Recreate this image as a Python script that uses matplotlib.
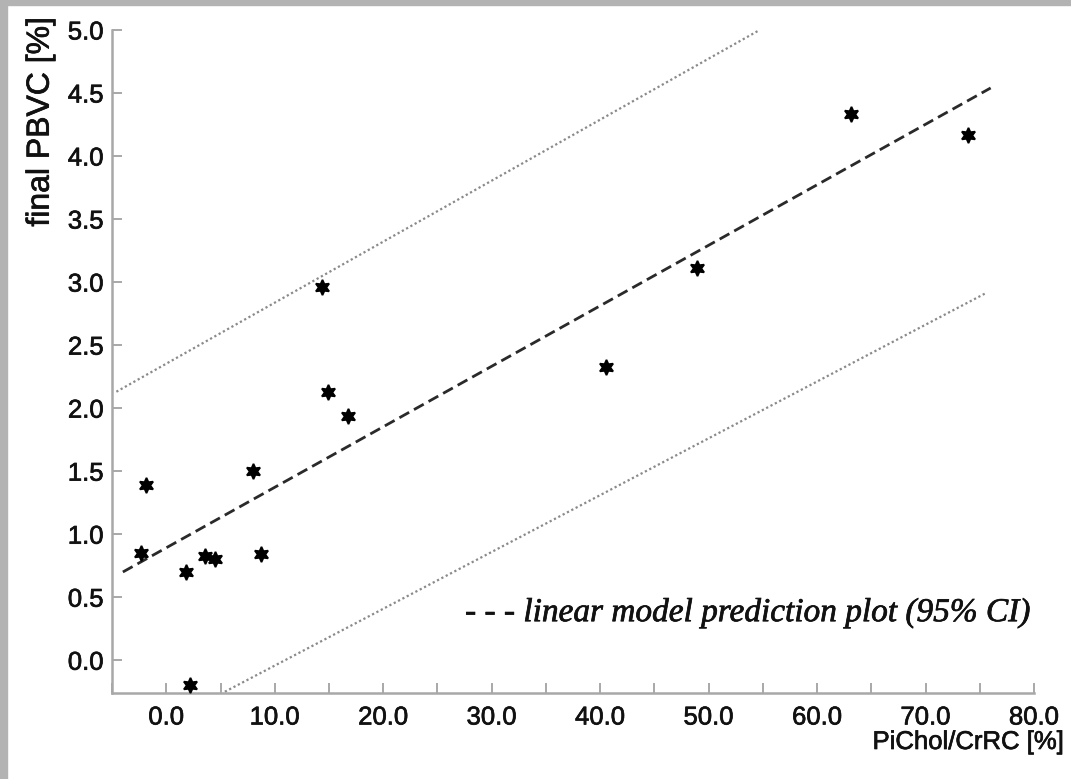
import matplotlib
matplotlib.use('Agg')
from matplotlib import pyplot as plt
from matplotlib.patches import Rectangle
from matplotlib.ticker import MultipleLocator, FormatStrFormatter
import matplotlib.patheffects as pe

# measured points (PiChol/CrRC %, final PBVC %)
pichol = [-2.3, -1.9, 1.8, 2.2, 3.6, 4.5, 8.0, 8.7, 14.4, 14.9, 16.8, 40.5, 48.9, 63.1, 73.9]
pbvc = [0.85, 1.39, 0.70, -0.20, 0.83, 0.80, 1.50, 0.84, 2.96, 2.13, 1.94, 2.33, 3.11, 4.33, 4.17]

# linear model and 95% CI bounds (end points)
fit_x = [-4.0, 76.0]
fit_y = [0.70, 4.54]
upper_x = [-4.6, 54.7]
upper_y = [2.13, 5.00]
lower_x = [5.4, 75.5]
lower_y = [-0.25, 2.91]

thick = [pe.withStroke(linewidth=0.5, foreground='#111111')]

fig = plt.figure(figsize=(10.71, 7.79), dpi=100)
fig.patch.set_facecolor('white')
fig.patches.append(Rectangle((0, 0), 7 / 1071, 1, transform=fig.transFigure,
                             color='#b3b3b3', zorder=0))
fig.patches.append(Rectangle((0, 1 - 5 / 779), 1, 5 / 779, transform=fig.transFigure,
                             color='#b3b3b3', zorder=0))

ax = fig.add_axes([0.1046, 0.1104, 0.9655 - 0.1046, 0.9615 - 0.1104])

ax.plot(upper_x, upper_y, linestyle=(0, (1, 1.2)), color='#8a8a8a', lw=1.6)
ax.plot(lower_x, lower_y, linestyle=(0, (1, 1.2)), color='#8a8a8a', lw=1.6)
ax.plot(fit_x, fit_y, linestyle=(0, (4, 2)), color='#2a2a2a', lw=2.0)
ax.plot(pichol, pbvc, linestyle='none', marker=(6, 1, 0), markersize=11,
        markeredgewidth=1.3, color='black', zorder=5, clip_on=False)

ax.set_xlim(-5, 80)
ax.set_ylim(-0.26, 5.0)

ax.xaxis.set_major_locator(MultipleLocator(10))
ax.xaxis.set_minor_locator(MultipleLocator(5))
ax.xaxis.set_major_formatter(FormatStrFormatter('%.1f'))
ax.yaxis.set_major_locator(MultipleLocator(0.5))
ax.yaxis.set_major_formatter(FormatStrFormatter('%.1f'))

for side in ['top', 'right']:
    ax.spines[side].set_visible(False)
for side in ['left', 'bottom']:
    ax.spines[side].set_color('#a8a8a8')
    ax.spines[side].set_linewidth(1.8)

ax.tick_params(axis='both', which='both', direction='in', length=7, width=1.4,
               color='#a8a8a8', labelsize=18.5, labelcolor='#111111')
ax.tick_params(axis='x', pad=9)
ax.tick_params(axis='y', pad=6)
for lab in ax.get_xticklabels() + ax.get_yticklabels():
    lab.set_fontfamily('Liberation Sans')
    lab.set_path_effects(thick)

fig.text(0.038, 0.979, 'final PBVC [%]', rotation=90, ha='center', va='top',
         fontsize=23, family='Liberation Sans', color='#111111', path_effects=thick)
fig.text(0.9935, 0.0475, 'PiChol/CrRC [%]', ha='right', va='center',
         fontsize=18.5, family='Liberation Sans', color='#111111', path_effects=thick)

ax.text(0.998, 0.121, '- - - linear model prediction plot (95% CI)', transform=ax.transAxes,
        ha='right', va='center', fontsize=24, family='Liberation Serif',
        style='italic', color='#111111', path_effects=thick)

fig.savefig('out.png', dpi=100)
